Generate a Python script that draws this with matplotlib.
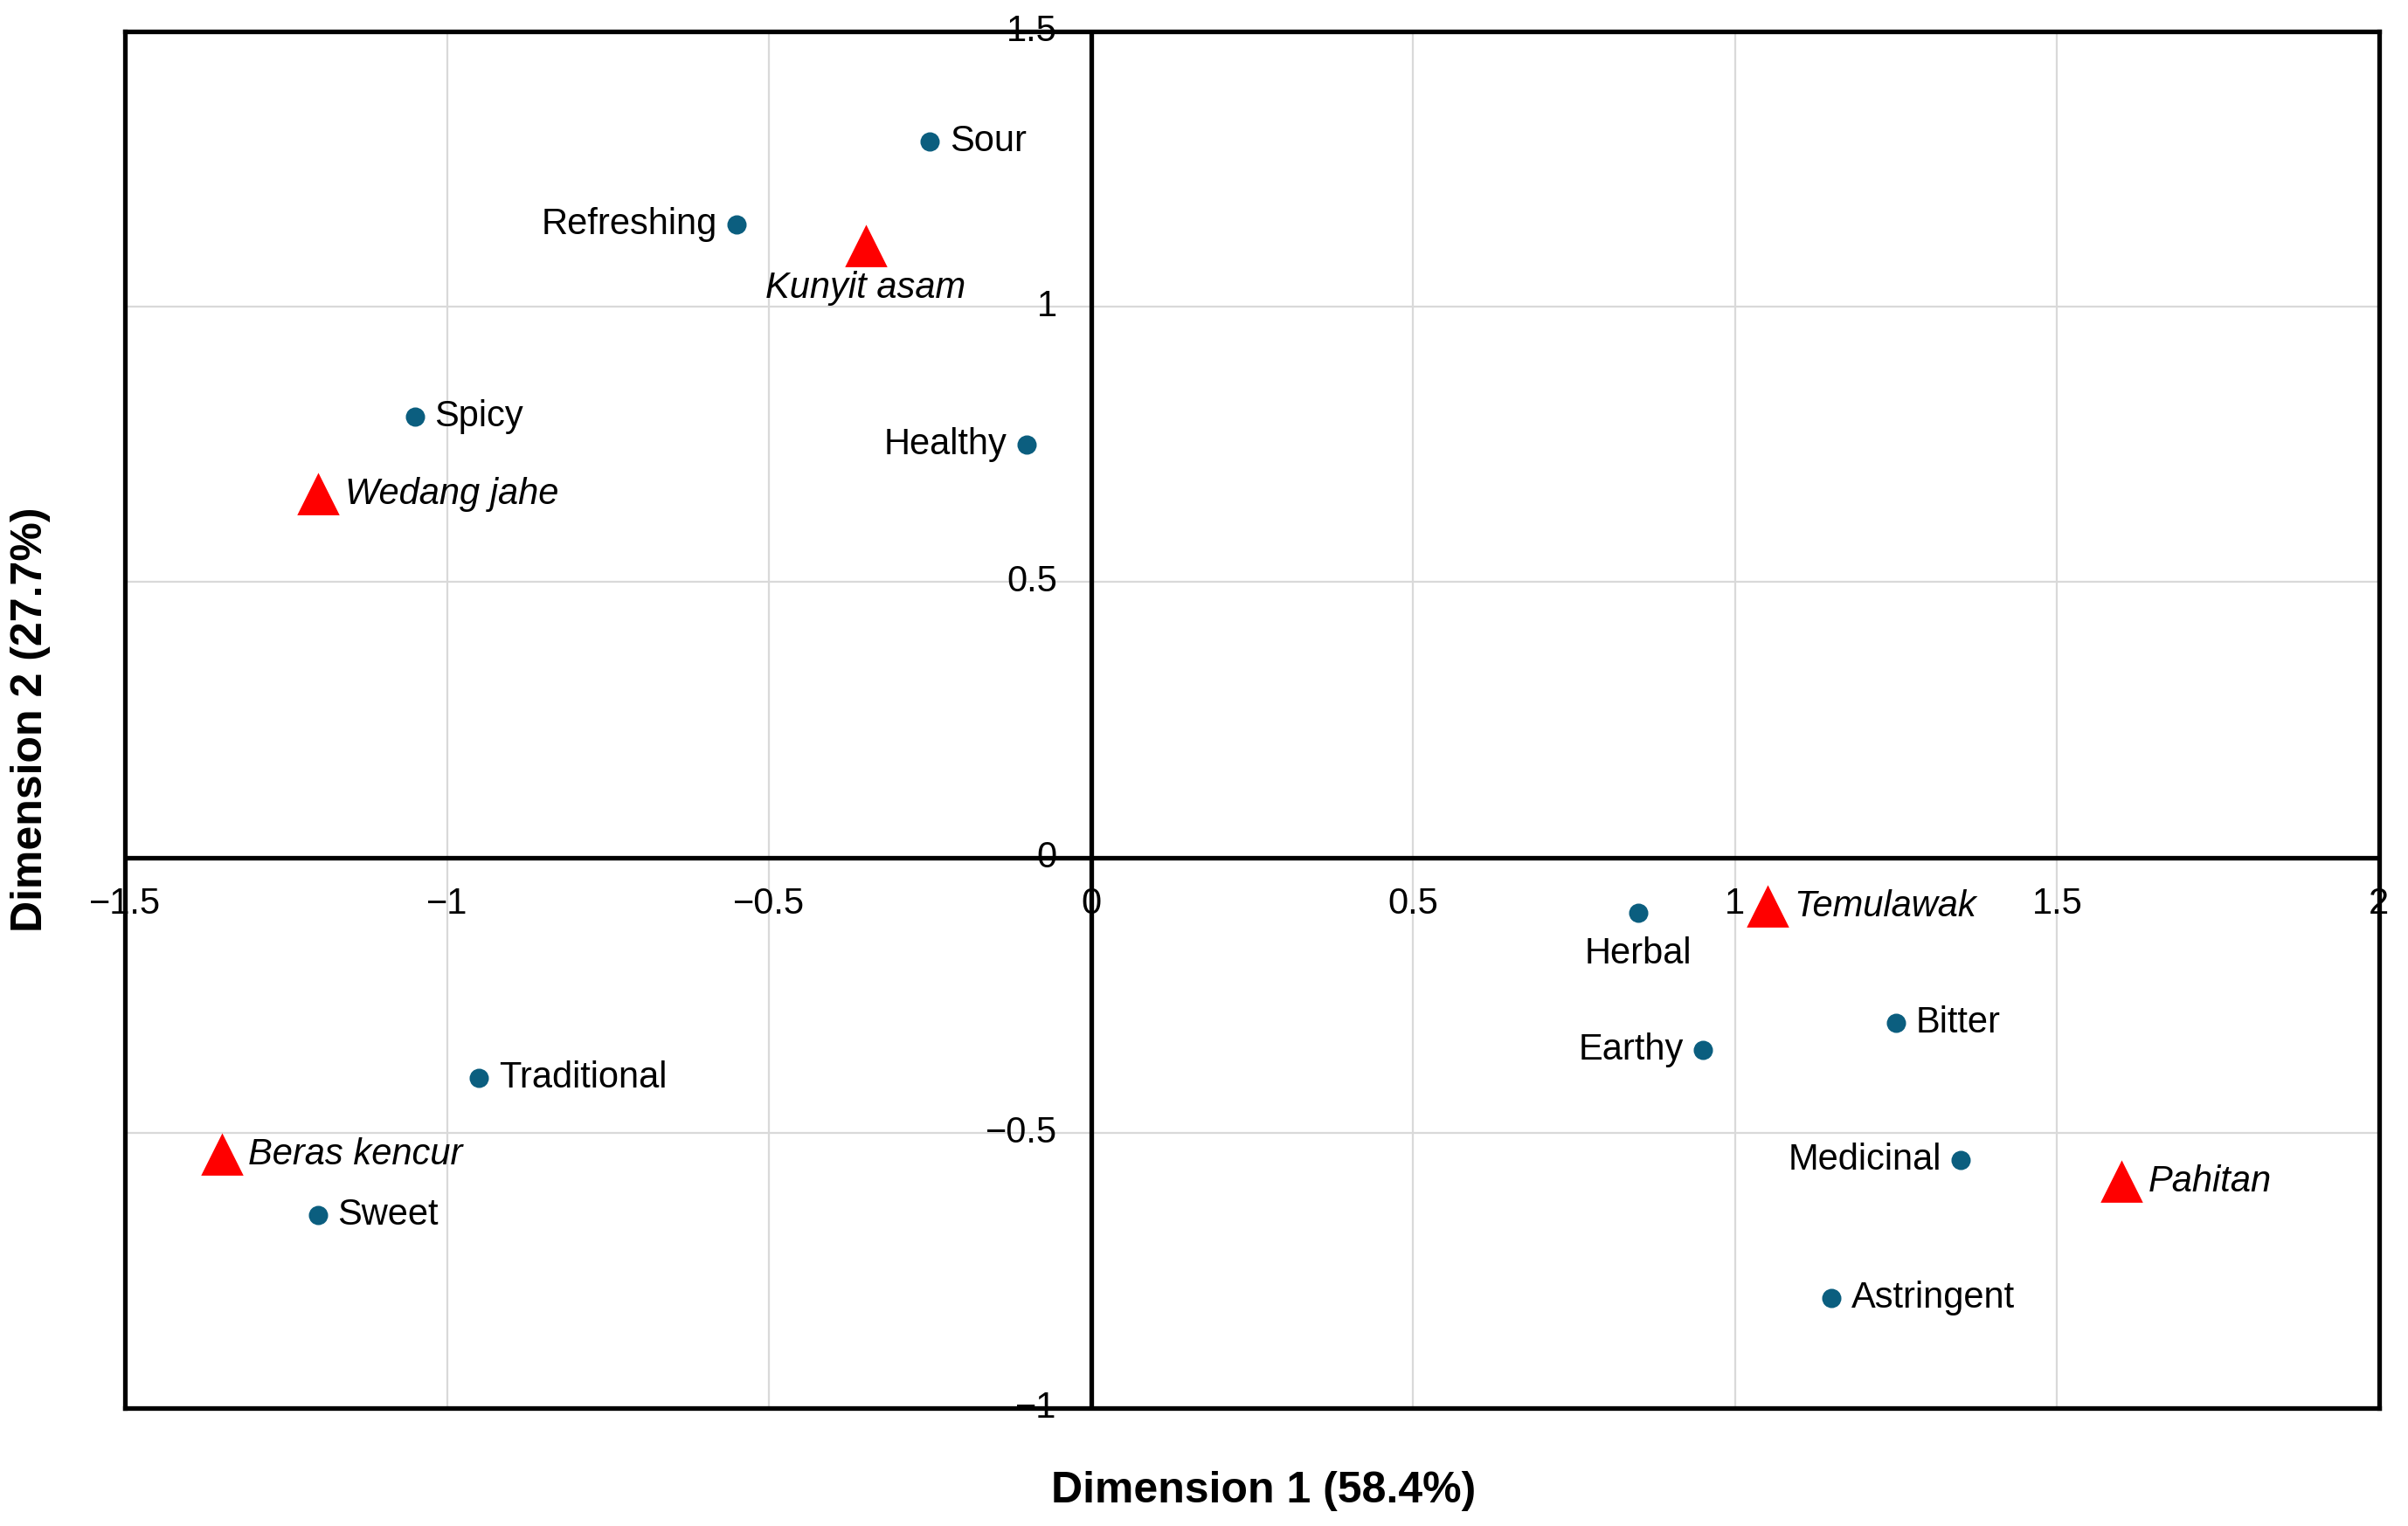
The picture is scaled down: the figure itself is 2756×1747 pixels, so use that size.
import matplotlib
matplotlib.use("Agg")
import matplotlib.pyplot as plt

# attribute points (blue dots)
attr_names = ["Sour", "Refreshing", "Spicy", "Healthy", "Traditional", "Sweet",
              "Herbal", "Bitter", "Earthy", "Medicinal", "Astringent"]
attr_x = [-0.25, -0.55, -1.05, -0.10, -0.95, -1.20, 0.85, 1.25, 0.95, 1.35, 1.15]
attr_y = [1.30, 1.15, 0.80, 0.75, -0.40, -0.65, -0.10, -0.30, -0.35, -0.55, -0.80]
attr_pos = ["right", "left", "right", "left", "right", "right",
            "below", "right", "left", "left", "right"]

# product points (red triangles)
prod_names = ["Kunyit asam", "Wedang jahe", "Beras kencur", "Temulawak", "Pahitan"]
prod_x = [-0.35, -1.20, -1.35, 1.05, 1.60]
prod_y = [1.11, 0.66, -0.54, -0.09, -0.59]
prod_pos = ["below", "right", "right", "right", "right"]

x_ticks = [-1.5, -1, -0.5, 0, 0.5, 1, 1.5, 2]
y_ticks = [-1, -0.5, 0, 0.5, 1, 1.5]

plt.rcParams['font.family'] = ['Liberation Sans', 'DejaVu Sans']

fig = plt.figure(figsize=(13.78, 8.735), dpi=200)
ax = fig.add_axes([0.0519, 0.0773, 0.9361, 0.9021])
ax.set_xlim(-1.5, 2)
ax.set_ylim(-1, 1.5)

ax.set_xticks(x_ticks)
ax.set_yticks(y_ticks)
ax.tick_params(length=0, labelbottom=False, labelleft=False)
ax.set_axisbelow(True)
ax.grid(True, color='#d9d9d9', linewidth=0.8)
for s in ax.spines.values():
    s.set_linewidth(1.9)
    s.set_color('black')
    s.set_zorder(3)
ax.axhline(0, color='black', linewidth=1.9, zorder=3)
ax.axvline(0, color='black', linewidth=1.9, zorder=3)


def fmt(v):
    return ('%g' % v).replace('-', '\u2212')


# tick labels sit along the zero lines
for t in x_ticks:
    ax.annotate(fmt(t), (t, 0), xytext=(0, -12), textcoords='offset points',
                ha='center', va='top', fontsize=15, zorder=2)
for t in y_ticks:
    ax.annotate(fmt(t), (0, t), xytext=(-14, 0), textcoords='offset points',
                ha='right', va='center', fontsize=15, zorder=2)


def place(name, x, y, pos, style, gap):
    if pos == "right":
        ax.annotate(name, (x, y), xytext=(gap, 0), textcoords='offset points',
                    ha='left', va='center', fontsize=15, style=style, zorder=6)
    elif pos == "left":
        ax.annotate(name, (x, y), xytext=(-gap, 0), textcoords='offset points',
                    ha='right', va='center', fontsize=15, style=style, zorder=6)
    else:
        ax.annotate(name, (x, y), xytext=(0, -10), textcoords='offset points',
                    ha='center', va='top', fontsize=15, style=style, zorder=6)


ax.scatter(attr_x, attr_y, s=48, color='#0b5e7f', zorder=4, clip_on=False)
ax.plot(prod_x, prod_y, linestyle='none', marker='^', markersize=16,
        color='#ff0000', zorder=4, clip_on=False)

for n, x, y, p in zip(attr_names, attr_x, attr_y, attr_pos):
    place(n, x, y, p, 'normal', 8)
for n, x, y, p in zip(prod_names, prod_x, prod_y, prod_pos):
    place(n, x, y, p, 'italic', 11)

ax.set_xlabel('Dimension 1 (58.4%)', fontsize=18, fontweight='bold')
ax.xaxis.set_label_coords(0.505, -0.046)
ax.set_ylabel('Dimension 2 (27.7%)', fontsize=18, fontweight='bold')
ax.yaxis.set_label_coords(-0.033, 0.5)

fig.savefig('out.png', dpi=200)
